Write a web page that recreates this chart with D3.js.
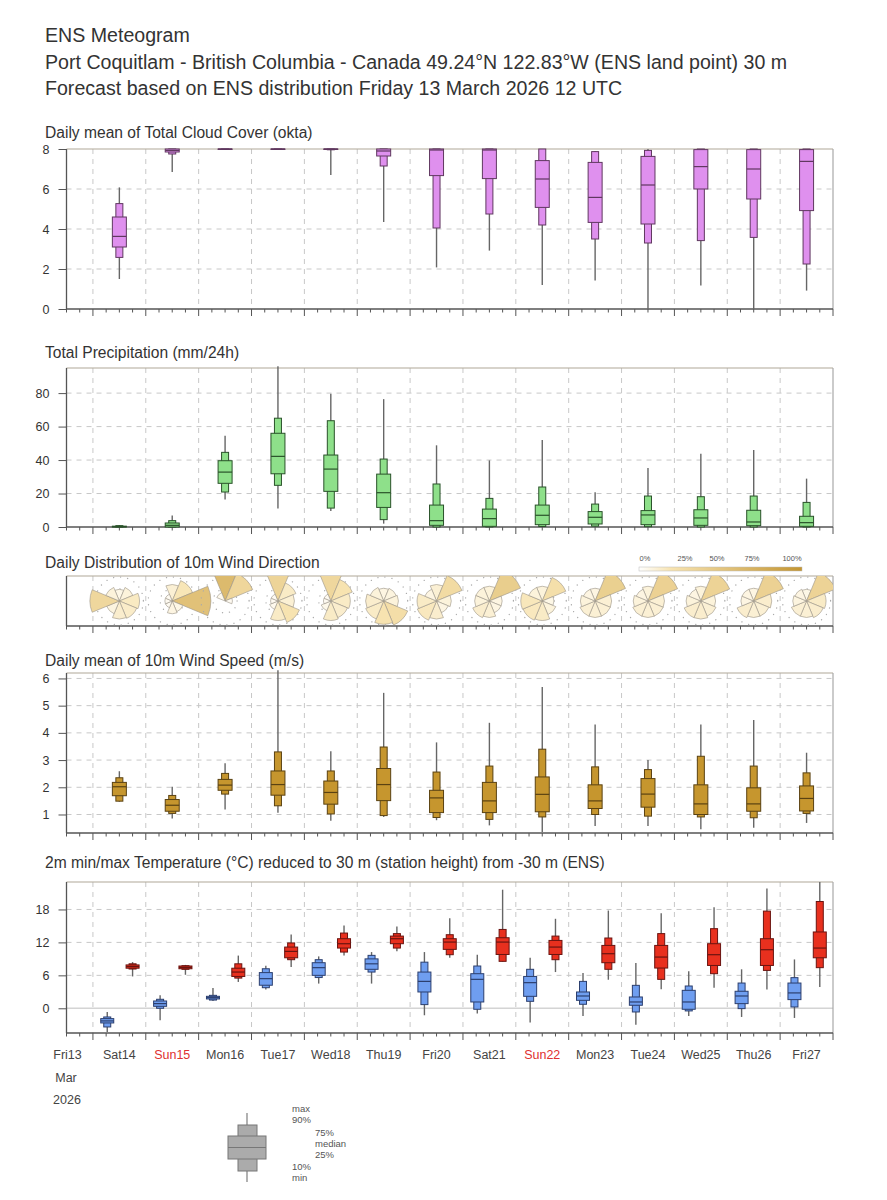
<!DOCTYPE html>
<html>
<head>
<meta charset="utf-8">
<script src="https://d3js.org/d3.v7.min.js"></script>
<style>
  body { margin: 0; background: #fff; }
  text { font-family: "Liberation Sans", Arial, sans-serif; }
</style>
</head>
<body>
<div class="chart"></div>
<script>
// ---- data ----
var dayLabels = ["Fri13", "Sat14", "Sun15", "Mon16", "Tue17", "Wed18", "Thu19", "Fri20",
  "Sat21", "Sun22", "Mon23", "Tue24", "Wed25", "Thu26", "Fri27"];

// stats rows: [min, p10, p25, median, p75, p90, max], one row per day Sat14..Fri27
var cloudStats = [
  [1.5, 2.58, 3.1, 3.63, 4.6, 5.27, 6.08],
  [6.85, 7.75, 7.85, 7.93, 8, 8, 8],
  [7.97, 7.99, 8, 8, 8, 8, 8],
  [7.95, 7.98, 8, 8, 8, 8, 8],
  [6.7, 7.96, 7.98, 8, 8, 8, 8],
  [4.35, 7.15, 7.65, 7.9, 8, 8, 8],
  [2.08, 4.05, 6.67, 7.95, 8, 8, 8],
  [2.92, 4.75, 6.52, 7.95, 8, 8, 8],
  [1.2, 4.2, 5.08, 6.5, 7.42, 8, 8],
  [1.42, 3.5, 4.33, 5.58, 7.33, 7.87, 7.9],
  [0, 3.3, 4.25, 6.2, 7.63, 7.93, 8],
  [1.17, 3.42, 6.0, 7.12, 7.97, 8, 8],
  [0, 3.58, 5.5, 7.0, 7.97, 8, 8],
  [0.92, 2.25, 4.92, 7.38, 7.97, 8, 8]
];

var precipStats = [
  [0, 0, 0, 0.2, 0.5, 0.8, 1.2],
  [0, 0, 0, 1.0, 2.4, 3.8, 6.8],
  [16.5, 20.9, 26.1, 32.8, 39.6, 44.6, 54.5],
  [11, 24.9, 31.8, 42.2, 56, 65, 96],
  [9.5, 11.3, 21.3, 34.6, 43, 63.5, 79.6],
  [2, 4.4, 11.7, 20.5, 31.6, 40.6, 76.4],
  [0, 0, 1, 3.8, 13.1, 25.7, 48.8],
  [0, 0, 0.4, 5, 10.7, 17.1, 39.8],
  [0, 0.3, 1.4, 7, 13.1, 23.9, 52],
  [0, 0.5, 1.8, 5.8, 9.2, 13.7, 20.7],
  [0, 0.2, 1.4, 7.2, 9.8, 18.5, 35.2],
  [0, 0, 1, 5.4, 10.3, 18.1, 43.8],
  [0, 0, 0.8, 3, 10, 18.5, 46],
  [0, 0, 0.4, 2.6, 6.4, 14.7, 28.9]
];

var windStats = [
  [1.47, 1.49, 1.69, 2.02, 2.18, 2.35, 2.59],
  [0.85, 1.04, 1.12, 1.34, 1.55, 1.7, 2.02],
  [1.18, 1.75, 1.89, 2.08, 2.29, 2.51, 2.88],
  [1.06, 1.32, 1.71, 2.1, 2.6, 3.3, 6.3],
  [0.77, 1.02, 1.38, 1.81, 2.23, 2.6, 3.32],
  [0.91, 0.96, 1.51, 2.1, 2.69, 3.48, 5.47],
  [0.79, 0.89, 1.07, 1.61, 1.89, 2.56, 3.65],
  [0.6, 0.82, 1.07, 1.5, 2.18, 2.78, 4.37],
  [0.36, 0.91, 1.1, 1.74, 2.38, 3.4, 5.69],
  [0.58, 1.0, 1.22, 1.5, 2.09, 2.75, 4.31],
  [0.58, 0.94, 1.27, 1.75, 2.32, 2.65, 3.0],
  [0.46, 0.91, 1.0, 1.39, 2.09, 3.14, 4.31],
  [0.51, 0.88, 1.12, 1.39, 1.98, 2.78, 4.47],
  [0.69, 1.04, 1.13, 1.59, 2.05, 2.53, 3.27]
];

var tminStats = [
  [-4.3, -3.4, -2.67, -2.3, -1.88, -1.58, -0.67],
  [-2.2, 0, 0.36, 0.85, 1.33, 1.64, 2.36],
  [1.33, 1.5, 1.7, 1.94, 2.18, 2.36, 3.7],
  [3.4, 3.75, 4.2, 5.4, 6.5, 7.2, 7.75],
  [4.5, 5.6, 6.0, 7.4, 8.3, 8.85, 9.45],
  [4.5, 6.6, 7.1, 8.1, 9.0, 9.64, 10.24],
  [-1.27, 0.67, 2.97, 4.9, 6.6, 8.4, 10.24],
  [-0.97, -0.18, 1.15, 5.27, 6.3, 7.7, 9.76],
  [-2.6, 1.27, 2.18, 4.67, 5.8, 7.1, 9.2],
  [-1.4, 0.73, 1.45, 2.24, 2.97, 4.9, 6.42],
  [-3.0, -0.67, 0.55, 1.15, 2.06, 4.18, 8.24],
  [-1.4, -0.48, -0.18, 1.15, 3.27, 4.06, 6.73],
  [-1.58, -0.06, 0.85, 2.24, 3.1, 4.6, 7.1],
  [-1.76, 0.24, 1.58, 2.8, 4.6, 5.58, 8.9]
];

var tmaxStats = [
  [5.8, 7.15, 7.3, 7.6, 7.9, 8.1, 8.42],
  [6.1, 7.1, 7.2, 7.45, 7.7, 7.75, 7.9],
  [4.8, 5.5, 5.8, 6.6, 7.3, 8.1, 9.6],
  [7.5, 8.85, 9.2, 10.36, 11.15, 11.9, 13.45],
  [9.6, 10.24, 10.97, 11.76, 12.67, 13.7, 15.1],
  [10.4, 10.97, 11.76, 12.67, 13.15, 13.6, 14.9],
  [9.2, 9.76, 10.73, 12.06, 12.67, 13.4, 16.4],
  [8.5, 8.55, 9.8, 12.06, 12.85, 14.36, 21.6],
  [6.6, 8.85, 9.8, 11.15, 12.36, 13.15, 16.3],
  [5.2, 7.1, 8.3, 9.94, 11.45, 12.8, 17.8],
  [3.45, 5.27, 7.33, 9.33, 11.45, 13.6, 17.3],
  [3.76, 6.3, 7.8, 9.76, 11.76, 14.5, 18.4],
  [3.4, 6.9, 7.8, 10.67, 12.67, 17.7, 21.8],
  [3.9, 7.4, 9.2, 10.97, 13.9, 19.45, 23]
];

// wind direction frequency (%) per day, sectors N, NE, E, SE, S, SW, W, NW
var windDirs = [0, 45, 90, 135, 180, 225, 270, 315];
var windFreq = [
  [5, 8, 15, 13, 12, 7, 32, 8],
  [10, 18, 55, 5, 6, 2, 2, 2],
  [62, 33, 2, 0, 0, 0, 0, 3],
  [35, 14, 10, 20, 14, 3, 2, 2],
  [32, 20, 14, 12, 14, 4, 2, 2],
  [6, 7, 8, 25, 20, 14, 12, 8],
  [10, 28, 8, 6, 12, 16, 14, 6],
  [8, 42, 6, 6, 10, 12, 8, 8],
  [8, 24, 5, 8, 14, 16, 17, 8],
  [6, 40, 10, 10, 10, 10, 8, 6],
  [8, 38, 10, 10, 10, 10, 8, 6],
  [8, 36, 8, 10, 12, 12, 8, 6],
  [6, 38, 12, 10, 10, 12, 6, 6],
  [5, 36, 14, 12, 10, 10, 7, 6]
];

var cloudTicks = [0, 2, 4, 6, 8];
var precipTicks = [0, 20, 40, 60, 80];
var windTicks = [1, 2, 3, 4, 5, 6];
var tempTicks = [0, 6, 12, 18];
var roseLegendTicks = ["0%", "25%", "50%", "75%", "100%"];

// ---- layout ----
var svgWidth = 887;
var svgHeight = 1200;
var x0 = 66.5;
var x1 = 833;

var svg = d3.select(".chart")
  .append("svg")
  .attr("width", svgWidth)
  .attr("height", svgHeight);

var tStart = new Date(Date.UTC(2026, 2, 13, 12));
var tEnd = new Date(Date.UTC(2026, 2, 28, 0));
var xScale = d3.scaleUtc().domain([tStart, tEnd]).range([x0, x1]);

function dayTime(i, h) {
  // i = 0 for Sat14
  return new Date(Date.UTC(2026, 2, 14 + i, Math.floor(h), h % 1 ? 30 : 0));
}

// header
var header = [
  "ENS Meteogram",
  "Port Coquitlam - British Columbia - Canada 49.24\u00b0N 122.83\u00b0W (ENS land point) 30 m",
  "Forecast based on ENS distribution Friday 13 March 2026 12 UTC"
];
svg.selectAll(".hdr")
  .data(header)
  .enter()
  .append("text")
  .attr("x", 45)
  .attr("y", (d, i) => 42 + i * 26.5)
  .attr("font-size", 19.6)
  .attr("fill", "#333")
  .text(d => d);

function panelTitle(txt, y) {
  svg.append("text")
    .attr("x", 45)
    .attr("y", y)
    .attr("font-size", 15.6)
    .attr("fill", "#333")
    .text(txt);
}

function drawFrame(top, bottom, y, ticks, zeroSolid) {
  var g = svg.append("g");

  // vertical gridlines at midnight
  g.selectAll(".vg")
    .data(d3.utcDay.range(d3.utcDay.ceil(tStart), tEnd))
    .enter()
    .append("line")
    .attr("x1", d => xScale(d))
    .attr("x2", d => xScale(d))
    .attr("y1", top)
    .attr("y2", bottom)
    .attr("stroke", "#c8c8c8")
    .attr("stroke-dasharray", "5,5");

  if (y) {
    g.selectAll(".hg")
      .data(ticks.filter(t => y(t) > top + 1 && y(t) < bottom - 1))
      .enter()
      .append("line")
      .attr("x1", x0)
      .attr("x2", x1)
      .attr("y1", d => y(d))
      .attr("y2", d => y(d))
      .attr("stroke", d => (zeroSolid && d === 0) ? "#d4d4d4" : "#c8c8c8")
      .attr("stroke-width", d => (zeroSolid && d === 0) ? 1.5 : 1)
      .attr("stroke-dasharray", d => (zeroSolid && d === 0) ? null : "5,5");

    var leftAxis = d3.axisLeft(y).tickValues(ticks).tickFormat(d3.format("d"))
      .tickSize(8).tickPadding(9);
    var ax = g.append("g")
      .attr("transform", `translate(${x0},0)`)
      .call(leftAxis);
    ax.select(".domain").remove();
    ax.selectAll("line").attr("stroke", "#555");
    ax.selectAll("text")
      .attr("font-size", 12.5)
      .attr("fill", "#333")
      .style("font-family", "Liberation Sans, Arial, sans-serif");
  }

  // frame
  g.append("line").attr("x1", x0).attr("x2", x1).attr("y1", top).attr("y2", top)
    .attr("stroke", "#b0a898").attr("stroke-width", 1.2);
  g.append("line").attr("x1", x1).attr("x2", x1).attr("y1", top).attr("y2", bottom)
    .attr("stroke", "#a8a8a8").attr("stroke-width", 1.2);
  g.append("line").attr("x1", x0).attr("x2", x0).attr("y1", top).attr("y2", bottom)
    .attr("stroke", "#555").attr("stroke-width", 1.3);
  g.append("line").attr("x1", x0).attr("x2", x1).attr("y1", bottom).attr("y2", bottom)
    .attr("stroke", "#555").attr("stroke-width", 1.3);

  // time ticks every 6 h
  g.selectAll(".xt")
    .data(d3.utcHour.every(6).range(tStart, new Date(+tEnd + 1)))
    .enter()
    .append("line")
    .attr("x1", d => xScale(d))
    .attr("x2", d => xScale(d))
    .attr("y1", bottom)
    .attr("y2", d => bottom + (d.getUTCHours() === 0 ? 7 : 3.5))
    .attr("stroke", "#555");

  return g;
}

function drawBoxes(stats, hour, y, fill, stroke, ww, nw) {
  var g = svg.append("g");
  var rows = stats.map((s, i) => ({ s: s, x: xScale(dayTime(i, hour)) }));

  g.selectAll(".wh")
    .data(rows)
    .enter()
    .append("line")
    .attr("x1", d => d.x)
    .attr("x2", d => d.x)
    .attr("y1", d => y(d.s[0]))
    .attr("y2", d => y(d.s[6]))
    .attr("stroke", "#666")
    .attr("stroke-width", 1.4);

  g.selectAll(".nb")
    .data(rows)
    .enter()
    .append("rect")
    .attr("x", d => d.x - nw / 2)
    .attr("width", nw)
    .attr("y", d => y(d.s[5]))
    .attr("height", d => Math.max(0.5, y(d.s[1]) - y(d.s[5])))
    .attr("fill", fill)
    .attr("stroke", stroke)
    .attr("stroke-width", 1);

  g.selectAll(".wb")
    .data(rows)
    .enter()
    .append("rect")
    .attr("x", d => d.x - ww / 2)
    .attr("width", ww)
    .attr("y", d => y(d.s[4]))
    .attr("height", d => Math.max(0.5, y(d.s[2]) - y(d.s[4])))
    .attr("fill", fill)
    .attr("stroke", stroke)
    .attr("stroke-width", 1);

  g.selectAll(".md")
    .data(rows)
    .enter()
    .append("line")
    .attr("x1", d => d.x - ww / 2)
    .attr("x2", d => d.x + ww / 2)
    .attr("y1", d => y(d.s[3]))
    .attr("y2", d => y(d.s[3]))
    .attr("stroke", stroke)
    .attr("stroke-width", 1.2);
}

// ---- cloud cover ----
panelTitle("Daily mean of Total Cloud Cover (okta)", 138);
var yCloud = d3.scaleLinear().domain([0, 8]).range([309, 149]);
drawFrame(149, 309, yCloud, cloudTicks, false);
drawBoxes(cloudStats, 12, yCloud, "#df90ee", "#603860", 14, 7);

// ---- precipitation ----
panelTitle("Total Precipitation (mm/24h)", 358);
var yPrecip = d3.scaleLinear().domain([0, 95]).range([527, 368]);
drawFrame(368, 527, yPrecip, precipTicks, false);
drawBoxes(precipStats, 12, yPrecip, "#8ee08a", "#2a522a", 14, 7);

// ---- wind direction ----
panelTitle("Daily Distribution of 10m Wind Direction", 568);
var roseTop = 576, roseBottom = 626, roseY = 601;
drawFrame(roseTop, roseBottom, null, null, false);

svg.append("clipPath").attr("id", "roseClip")
  .append("rect")
  .attr("x", x0).attr("y", roseTop)
  .attr("width", x1 - x0).attr("height", roseBottom - roseTop);

var rScale = d3.scaleSqrt().domain([0, 100]).range([0, 52]);
var cScale = d3.scaleLinear().domain([0, 20, 100]).range(["#fffdf8", "#f7e3b0", "#c49530"]);
var arc = d3.arc().innerRadius(0);

var roseG = svg.append("g").attr("clip-path", "url(#roseClip)");
windFreq.forEach(function(freq, i) {
  var cx = xScale(dayTime(i, 12));
  var rg = roseG.append("g").attr("transform", `translate(${cx},${roseY})`);
  [12, 24].forEach(function(r) {
    rg.append("circle")
      .attr("r", r)
      .attr("fill", "none")
      .attr("stroke", "#aaa")
      .attr("stroke-width", 1.3)
      .attr("stroke-linecap", "round")
      .attr("stroke-dasharray", "0.1,7");
  });
  rg.selectAll("path")
    .data(freq.map((f, k) => ({ f: f, dir: windDirs[k] })).filter(d => d.f > 0))
    .enter()
    .append("path")
    .attr("d", d => arc({
      outerRadius: rScale(d.f),
      startAngle: (d.dir - 22.5) * Math.PI / 180,
      endAngle: (d.dir + 22.5) * Math.PI / 180
    }))
    .attr("fill", d => cScale(d.f))
    .attr("stroke", "#9a9488")
    .attr("stroke-width", 0.6);
});

// colour bar
var grad = svg.append("defs").append("linearGradient").attr("id", "roseGrad");
grad.append("stop").attr("offset", "0%").attr("stop-color", "#ffffff");
grad.append("stop").attr("offset", "20%").attr("stop-color", cScale(20));
grad.append("stop").attr("offset", "100%").attr("stop-color", cScale(100));
svg.append("rect")
  .attr("x", 639).attr("y", 567)
  .attr("width", 163).attr("height", 4)
  .attr("fill", "url(#roseGrad)")
  .attr("stroke", "#bbb").attr("stroke-width", 0.5);
var legX = [645, 685, 717, 752, 792];
svg.selectAll(".rl")
  .data(roseLegendTicks)
  .enter()
  .append("text")
  .attr("x", (d, i) => legX[i])
  .attr("y", 561)
  .attr("text-anchor", "middle")
  .attr("font-size", 7.5)
  .attr("fill", "#555")
  .text(d => d);

// ---- wind speed ----
panelTitle("Daily mean of 10m Wind Speed (m/s)", 666);
var yWind = d3.scaleLinear().domain([0.32, 6.2]).range([833, 673]);
drawFrame(673, 833, yWind, windTicks, false);
drawBoxes(windStats, 12, yWind, "#c6962e", "#5a4212", 14, 7);

// ---- temperature ----
panelTitle("2m min/max Temperature (\u00b0C) reduced to 30 m (station height) from -30 m (ENS)", 868);
var yTemp = d3.scaleLinear().domain([-4.5, 23]).range([1033, 882]);
drawFrame(882, 1033, yTemp, tempTicks, true);
drawBoxes(tminStats, 6.5, yTemp, "#6f9ef0", "#2c3f6e", 13, 7);
drawBoxes(tmaxStats, 18, yTemp, "#e8301e", "#6a1410", 13, 7);

// ---- time labels ----
svg.selectAll(".dl")
  .data(dayLabels)
  .enter()
  .append("text")
  .attr("x", (d, i) => xScale(new Date(Date.UTC(2026, 2, 13 + i, 12))) + (i === 0 ? 1 : 0))
  .attr("y", 1059)
  .attr("text-anchor", "middle")
  .attr("font-size", 12.5)
  .attr("fill", d => d.indexOf("Sun") === 0 ? "#e03030" : "#444")
  .text(d => d);
svg.append("text").attr("x", 66).attr("y", 1082).attr("text-anchor", "middle")
  .attr("font-size", 12.5).attr("fill", "#444").text("Mar");
svg.append("text").attr("x", 67).attr("y", 1104).attr("text-anchor", "middle")
  .attr("font-size", 12.5).attr("fill", "#444").text("2026");

// ---- box legend ----
var lg = svg.append("g");
lg.append("line").attr("x1", 247).attr("x2", 247).attr("y1", 1113).attr("y2", 1182)
  .attr("stroke", "#888").attr("stroke-width", 1.3);
lg.append("rect").attr("x", 238).attr("y", 1125).attr("width", 19).attr("height", 46)
  .attr("fill", "#ababab").attr("stroke", "#777");
lg.append("rect").attr("x", 228).attr("y", 1136).attr("width", 38).attr("height", 23)
  .attr("fill", "#ababab").attr("stroke", "#777");
lg.append("line").attr("x1", 228).attr("x2", 266).attr("y1", 1147.5).attr("y2", 1147.5)
  .attr("stroke", "#777").attr("stroke-width", 1.2);
var legendLabels = [
  ["max", 292, 1112], ["90%", 292, 1123], ["75%", 315, 1136],
  ["median", 315, 1147], ["25%", 315, 1158], ["10%", 292, 1170], ["min", 292, 1181]
];
lg.selectAll("text")
  .data(legendLabels)
  .enter()
  .append("text")
  .attr("x", d => d[1])
  .attr("y", d => d[2])
  .attr("font-size", 9.5)
  .attr("fill", "#555")
  .text(d => d[0]);
</script>
</body>
</html>
